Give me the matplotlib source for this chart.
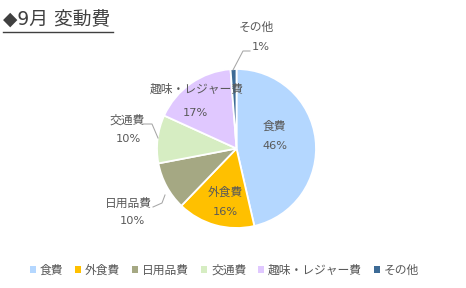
import matplotlib
matplotlib.use("Agg")
import matplotlib.pyplot as plt
from matplotlib.patches import Patch

plt.rcParams['font.family'] = ['Noto Sans CJK JP', 'DejaVu Sans']

# data
categories = ['食費', '外食費', '日用品費', '交通費', '趣味・レジャー費', 'その他']
shares = [46.4, 15.8, 9.8, 9.8, 17.0, 1.2]
colors = ['#B4D7FF', '#FFC000', '#A5A883', '#D6EDC2', '#E0C8FF', '#3D6B96']
title = '◆9月 変動費'

W, H = 466, 288
TXT = '#595959'
LINE = '#A6A6A6'
LATIN = ['DejaVu Sans', 'Noto Sans CJK JP']

fig = plt.figure(figsize=(W / 100, H / 100), dpi=100)
ax = fig.add_axes([0, 0, 1, 1])


def Y(y):
    # image y (from top) -> axes y
    return H - y


cx, cy, r = 236.5, Y(148.5), 79.5
ax.pie(shares, colors=colors, startangle=90, counterclock=False,
       center=(cx, cy), radius=r, frame=True,
       wedgeprops=dict(edgecolor='white', linewidth=1.3))
ax.set_xlim(0, W)
ax.set_ylim(0, H)
ax.set_aspect('equal')
ax.axis('off')

pct = [f'{v:.0f}%' for v in shares]
fs = 8.5
# label anchors (name line, percent line)
label_pos = [(274, 126, 275, 146),
             (225, 192, 225, 212),
             (128, 203, 132, 221),
             (127, 120, 128, 139),
             (197, 89, 195, 113),
             (256, 27, 261, 47)]
for name, p, (x1, y1, x2, y2) in zip(categories, pct, label_pos):
    ax.text(x1, Y(y1), name, ha='center', va='center', fontsize=fs, color=TXT)
    ax.text(x2, Y(y2), p, ha='center', va='center', fontsize=fs - 0.3,
            color=TXT, family=LATIN)

# leader lines
leaders = [([153, 162, 165], [207, 203, 195]),
           ([143, 152, 158], [124, 124, 138]),
           ([233, 243, 250], [70, 51, 51])]
for xs, ys in leaders:
    ax.plot(xs, [Y(v) for v in ys], color=LINE, lw=0.75)

# title with underline
ax.text(3, Y(20), title, ha='left', va='center', fontsize=13.5,
        color='#404040', family=LATIN)
ax.plot([3, 113], [Y(32), Y(32)], color='#404040', lw=1.0)

handles = [Patch(facecolor=c, edgecolor='none', label=n) for c, n in zip(colors, categories)]
fig.legend(handles=handles, loc='center', bbox_to_anchor=(224.5 / W, 1 - 270 / H),
           ncol=6, frameon=False, fontsize=fs, labelcolor=TXT,
           handlelength=0.5, handleheight=0.5, handletextpad=0.35,
           columnspacing=1.0, borderpad=0)

fig.savefig('out.png', dpi=100)
